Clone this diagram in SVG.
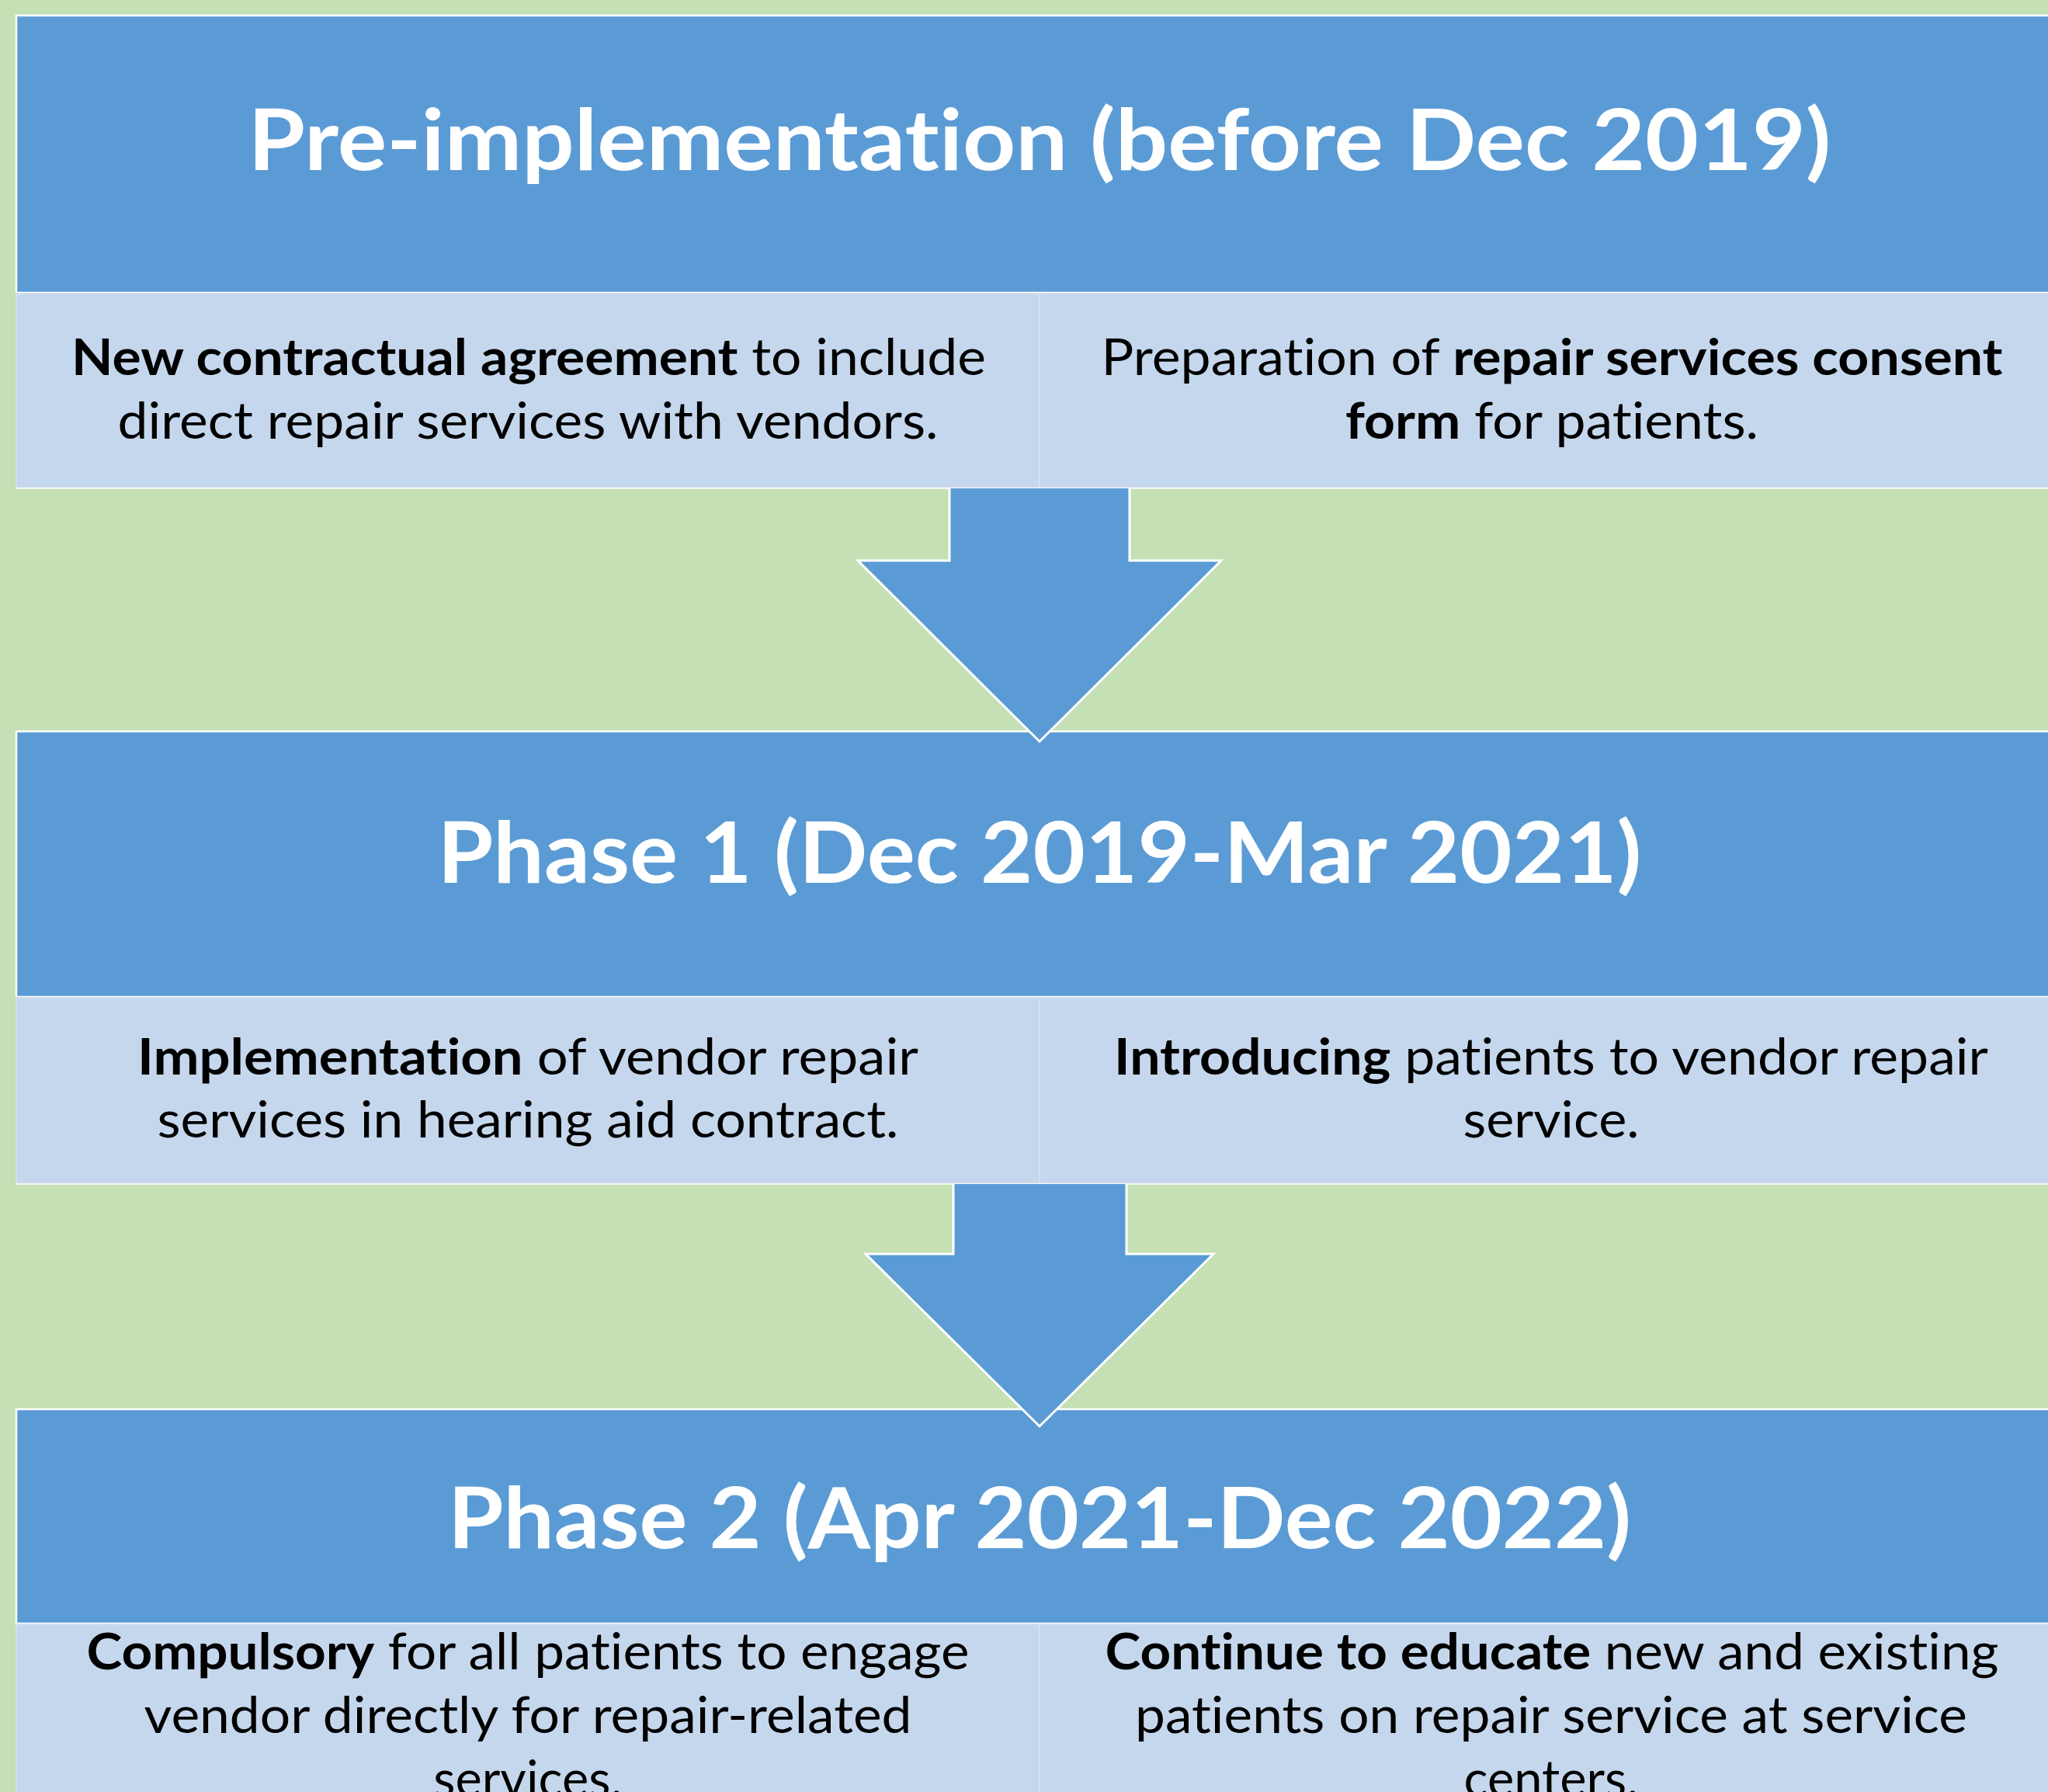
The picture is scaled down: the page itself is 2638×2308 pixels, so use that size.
<svg xmlns="http://www.w3.org/2000/svg" width="2638" height="2308" viewBox="0 0 2638 2308">
<style>
.hdr{fill:#5B9BD5;stroke:#FFFFFF;stroke-width:2.5}
.sub{fill:#C5D7EC;stroke:#D3DFEF;stroke-width:2}
.div{stroke:#D6E2F1;stroke-width:2}
.title{font-family:Lato,"Open Sans","Liberation Sans",sans-serif;font-weight:700;font-size:110px;fill:#FFFFFF;text-anchor:middle;font-variant-ligatures:none}
.txt{font-family:Lato,"Open Sans","Liberation Sans",sans-serif;font-size:65px;fill:#000000;text-anchor:middle;font-variant-ligatures:none}
.b{font-weight:700}
.afill{fill:#5B9BD5;stroke:none}
.aedge{fill:none;stroke:#FFFFFF;stroke-width:3;stroke-linejoin:miter}
</style>
<rect x="0" y="0" width="2638" height="2308" fill="#C5E0B4"/>

<g id="phase0">
  <rect class="hdr" x="21" y="20" width="2640" height="357"/>
  <text class="title" x="1339" y="219" textLength="2039" lengthAdjust="spacingAndGlyphs">Pre-implementation (before Dec 2019)</text>
  <rect class="sub" x="21" y="378" width="1318" height="250"/>
  <rect class="sub" x="1339" y="378" width="1320" height="250"/>
  <line class="div" x1="1339" y1="378" x2="1339" y2="628"/>
  <line x1="21" y1="629" x2="2638" y2="629" stroke="#FFFFFF" stroke-width="1.5"/>
  <text class="txt" x="681" y="483" textLength="1178" lengthAdjust="spacingAndGlyphs"><tspan class="b">New contractual agreement</tspan> to include</text>
  <text class="txt" x="680" y="565" textLength="1057" lengthAdjust="spacingAndGlyphs">direct repair services with vendors.</text>
  <text class="txt" x="1999" y="483" textLength="1161" lengthAdjust="spacingAndGlyphs">Preparation of <tspan class="b">repair services consent</tspan></text>
  <text class="txt" x="1999" y="565" textLength="532" lengthAdjust="spacingAndGlyphs"><tspan class="b">form</tspan> for patients.</text>
</g>

<g id="phase1">
  <rect class="hdr" x="21" y="942" width="2640" height="342"/>
  <text class="title" x="1339" y="1137" textLength="1551" lengthAdjust="spacingAndGlyphs">Phase 1 (Dec 2019-Mar 2021)</text>
  <rect class="sub" x="21" y="1285" width="1318" height="239"/>
  <rect class="sub" x="1339" y="1285" width="1320" height="239"/>
  <line class="div" x1="1339" y1="1285" x2="1339" y2="1524"/>
  <line x1="21" y1="1525" x2="2638" y2="1525" stroke="#FFFFFF" stroke-width="1.5"/>
  <text class="txt" x="680" y="1384" textLength="1006" lengthAdjust="spacingAndGlyphs"><tspan class="b">Implementation</tspan> of vendor repair</text>
  <text class="txt" x="680" y="1465" textLength="955" lengthAdjust="spacingAndGlyphs">services in hearing aid contract.</text>
  <text class="txt" x="1998" y="1384" textLength="1126" lengthAdjust="spacingAndGlyphs"><tspan class="b">Introducing</tspan> patients to vendor repair</text>
  <text class="txt" x="1998" y="1465" textLength="227" lengthAdjust="spacingAndGlyphs">service.</text>
</g>

<g id="phase2">
  <rect class="hdr" x="21" y="1815" width="2640" height="276"/>
  <text class="title" x="1339" y="1994" textLength="1524" lengthAdjust="spacingAndGlyphs">Phase 2 (Apr 2021-Dec 2022)</text>
  <rect class="sub" x="21" y="2092" width="1318" height="240"/>
  <rect class="sub" x="1339" y="2092" width="1320" height="240"/>
  <line class="div" x1="1339" y1="2092" x2="1339" y2="2320"/>
  <text class="txt" x="680" y="2150" textLength="1137" lengthAdjust="spacingAndGlyphs"><tspan class="b">Compulsory</tspan> for all patients to engage</text>
  <text class="txt" x="680" y="2232" textLength="989" lengthAdjust="spacingAndGlyphs">vendor directly for repair-related</text>
  <text class="txt" x="680" y="2314">services.</text>
  <text class="txt" x="1999" y="2150" textLength="1151" lengthAdjust="spacingAndGlyphs"><tspan class="b">Continue to educate</tspan> new and existing</text>
  <text class="txt" x="1998" y="2232" textLength="1072" lengthAdjust="spacingAndGlyphs">patients on repair service at service</text>
  <text class="txt" x="1998" y="2314">centers.</text>
</g>

<g id="connectors">
  <g id="arrow1">
    <polygon class="afill" points="1223,629 1455,629 1455,722 1573,722 1339,955 1105,722 1223,722"/>
    <polyline class="aedge" points="1223,629 1223,722 1105,722 1339,955 1573,722 1455,722 1455,629"/>
  </g>
  <g id="arrow2">
    <polygon class="afill" points="1228,1525 1451,1525 1451,1615 1563,1615 1339,1837 1115,1615 1228,1615"/>
    <polyline class="aedge" points="1228,1525 1228,1615 1115,1615 1339,1837 1563,1615 1451,1615 1451,1525"/>
  </g>
</g>
</svg>
